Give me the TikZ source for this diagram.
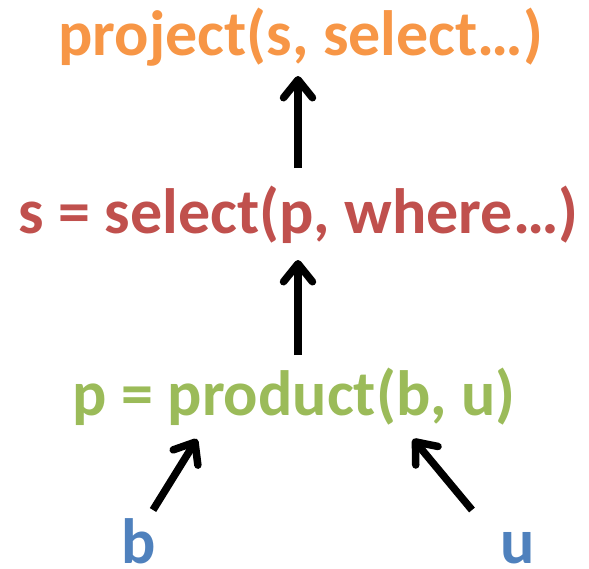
\documentclass[tikz,border=0pt]{standalone}
\usepackage{fontspec}
\setmainfont{Carlito}
\usetikzlibrary{arrows.meta}
\definecolor{cOrange}{HTML}{F79646}
\definecolor{cRed}{HTML}{C0504D}
\definecolor{cGreen}{HTML}{9BBB59}
\definecolor{cBlue}{HTML}{4F81BD}
\tikzset{
  expr/.style={anchor=base, inner sep=0pt, font=\fontsize{64}{70}\selectfont\bfseries},
  flow/.style={line width=7.5pt, line cap=butt, line join=round,
    -{Straight Barb[length=18pt, width=29pt, round]}}
}
\begin{document}
\begin{tikzpicture}[x=1pt,y=-1pt]
  \useasboundingbox (0,0) rectangle (589,568);
  \node[expr, text=cOrange] (project) at (301,55) {project(s, select…)};
  \node[expr, text=cRed]    (select)  at (298.5,233) {s = select(p, where…)};
  \node[expr, text=cGreen]  (product) at (294,415) {p = product(b, u)};
  \node[expr, text=cBlue]   (b)       at (139,563) {b};
  \node[expr, text=cBlue]   (u)       at (517.5,563) {u};

  \draw[flow] ([xshift=-0.5pt,yshift=65pt]select.base) -- ([xshift=-3pt,yshift=-21pt]project.base);
  \draw[flow] ([xshift=4pt,yshift=60pt]product.base) -- ([xshift=-0.5pt,yshift=-27pt]select.base);
  \draw[flow] ([xshift=14pt,yshift=53pt]b.base) -- ([xshift=-97pt,yshift=-24pt]product.base);
  \draw[flow] ([xshift=-45.5pt,yshift=53pt]u.base) -- ([xshift=119pt,yshift=-24pt]product.base);
\end{tikzpicture}
\end{document}
